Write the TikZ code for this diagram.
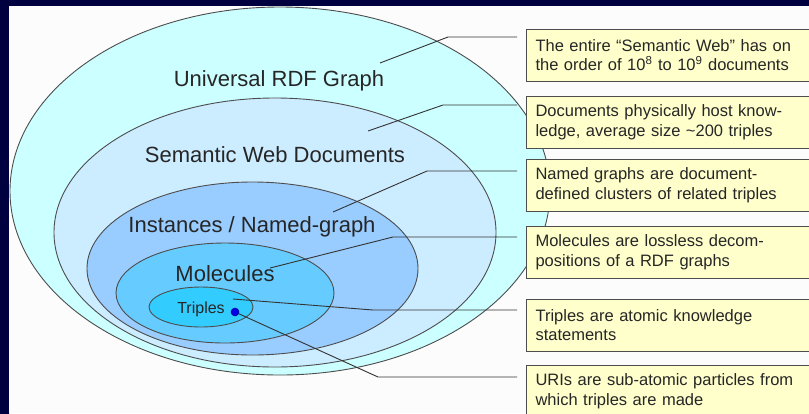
\documentclass[tikz,border=0pt]{standalone}
\usepackage{fontspec}
\setmainfont{Liberation Sans}
\usetikzlibrary{shapes.geometric}
\definecolor{navy}{RGB}{0,0,64}
\definecolor{navymid}{RGB}{0,0,128}
\definecolor{panel}{RGB}{252,252,252}
\definecolor{cuni}{RGB}{204,255,255}
\definecolor{cswd}{RGB}{204,236,255}
\definecolor{cins}{RGB}{153,204,255}
\definecolor{cmol}{RGB}{102,204,255}
\definecolor{ctri}{RGB}{51,204,255}
\definecolor{cbox}{RGB}{255,255,204}
\definecolor{outline}{RGB}{77,77,77}
\definecolor{dotblue}{RGB}{0,0,230}
\tikzset{
  ell/.style={ellipse, draw=outline, line width=0.9bp, inner sep=0pt},
  biglabel/.style={anchor=base, inner sep=0pt, font=\fontsize{22bp}{26bp}\selectfont, text=black!85},
  smalllabel/.style={anchor=base, inner sep=0pt, font=\fontsize{16bp}{19bp}\selectfont, text=black!85},
  notebox/.style={draw=outline, line width=1.1bp, fill=cbox, anchor=north west,
    minimum height=51.5bp, text width=285bp, inner xsep=9bp, align=left,
    font=\fontsize{16.5bp}{19.3bp}\selectfont, text=black!85},
  conn/.style={draw=black!80, line width=0.9bp, shorten >=9bp},
}
\begin{document}
\begin{tikzpicture}[x=1bp,y=-1bp]
\useasboundingbox (0,0) rectangle (809,413);
\clip (0,0) rectangle (809,413);
% background
\fill[navy] (0,0) rectangle (809,6);
\shade[top color=navy, middle color=navymid, bottom color=navy] (0,0) rectangle (9,413);
\fill[panel] (9,6) rectangle (809,413);

% nested ellipses
\node[ell, fill=cuni, minimum width=540bp, minimum height=368bp] (uni) at (280,191) {};
\node[ell, fill=cswd, minimum width=442bp, minimum height=269bp] (swd) at (275,232.5) {};
\node[ell, fill=cins, minimum width=331bp, minimum height=173bp] (ins) at (252.5,268.5) {};
\node[ell, fill=cmol, minimum width=218bp, minimum height=100bp] (mol) at (225,293) {};
\node[ell, fill=ctri, minimum width=104bp, minimum height=40bp] (tri) at (201,307) {};

% labels
\node[biglabel] (luni) at (279,86) {Universal RDF Graph};
\node[biglabel] (lswd) at (275,162) {Semantic Web Documents};
\node[biglabel] (lins) at (252,232.7) {Instances / Named-graph};
\node[biglabel] (lmol) at (225,281) {Molecules};
\node[smalllabel] (ltri) at (201,313) {Triples};

% boxes
\node[notebox] (b1) at (526,29) {The entire “Semantic Web” has on\\the order of 10\textsuperscript{8} to 10\textsuperscript{9} documents};
\node[notebox] (b2) at (526,96) {Documents physically host know-\\ledge, average size \textasciitilde200 triples};
\node[notebox] (b3) at (526,159) {Named graphs are document-\\defined clusters of related triples};
\node[notebox] (b4) at (526,226) {Molecules are lossless decom-\\positions of a RDF graphs};
\node[notebox] (b5) at (526,299) {Triples are atomic knowledge\\statements};
\node[notebox] (b6) at (526,365) {URIs are sub-atomic particles from\\which triples are made};

% connector anchors
\coordinate (a1) at (380,63);  \coordinate (k1) at (448,37);
\coordinate (a2) at (368,131); \coordinate (k2) at (443,105);
\coordinate (a3) at (333,212); \coordinate (k3) at (427,171);
\coordinate (a4) at (270,268); \coordinate (k4) at (393,237);
\coordinate (a5) at (233,299); \coordinate (k5) at (373,310);
\coordinate (k6) at (378,377);

\draw[conn] (a1) -- (k1) -- (k1 -| b1.west);
\draw[conn] (a2) -- (k2) -- (k2 -| b2.west);
\draw[conn] (a3) -- (k3) -- (k3 -| b3.west);
\draw[conn] (a4) -- (k4) -- (k4 -| b4.west);
\draw[conn] (a5) -- (k5) -- (k5 -| b5.west);

\node[circle, fill=dotblue, draw=blue!50!black, line width=0.5bp, inner sep=0pt, minimum size=8bp] (dot) at (235,312) {};
\draw[conn] (dot) -- (k6) -- (k6 -| b6.west);
\end{tikzpicture}
\end{document}
